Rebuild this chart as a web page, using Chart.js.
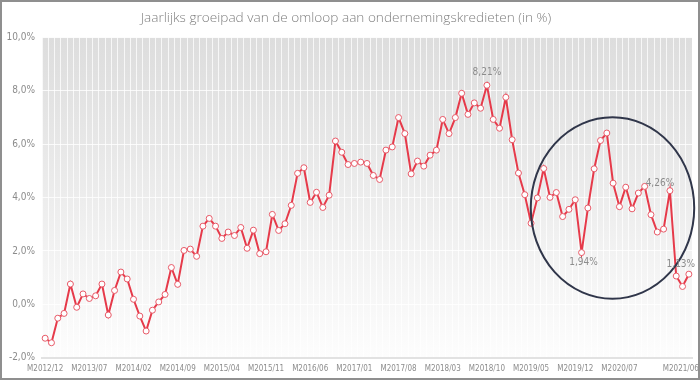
<!DOCTYPE html>
<html><head><meta charset="utf-8">
<script src="https://cdn.jsdelivr.net/npm/chart.js@4"></script>
<style>html,body{margin:0;padding:0;background:#fff}#wrap{width:700px;height:380px}</style>
</head><body><div id="wrap"><canvas id="c" width="700" height="380"></canvas></div>
<script>
const categories = [
 'M2012/12',
 'M2013/01','M2013/02','M2013/03','M2013/04','M2013/05','M2013/06','M2013/07','M2013/08','M2013/09','M2013/10','M2013/11','M2013/12',
 'M2014/01','M2014/02','M2014/03','M2014/04','M2014/05','M2014/06','M2014/07','M2014/08','M2014/09','M2014/10','M2014/11','M2014/12',
 'M2015/01','M2015/02','M2015/03','M2015/04','M2015/05','M2015/06','M2015/07','M2015/08','M2015/09','M2015/10','M2015/11','M2015/12',
 'M2016/01','M2016/02','M2016/03','M2016/04','M2016/05','M2016/06','M2016/07','M2016/08','M2016/09','M2016/10','M2016/11','M2016/12',
 'M2017/01','M2017/02','M2017/03','M2017/04','M2017/05','M2017/06','M2017/07','M2017/08','M2017/09','M2017/10','M2017/11','M2017/12',
 'M2018/01','M2018/02','M2018/03','M2018/04','M2018/05','M2018/06','M2018/07','M2018/08','M2018/09','M2018/10','M2018/11','M2018/12',
 'M2019/01','M2019/02','M2019/03','M2019/04','M2019/05','M2019/06','M2019/07','M2019/08','M2019/09','M2019/10','M2019/11','M2019/12',
 'M2020/01','M2020/02','M2020/03','M2020/04','M2020/05','M2020/06','M2020/07','M2020/08','M2020/09','M2020/10','M2020/11','M2020/12',
 'M2021/01','M2021/02','M2021/03','M2021/04','M2021/05','M2021/06'
];
const growth = [
 -1.27,
 -1.44,-0.52,-0.34,0.76,-0.11,0.39,0.22,0.32,0.76,-0.40,0.52,1.21,
 0.95,0.19,-0.44,-1.00,-0.22,0.09,0.37,1.38,0.75,2.02,2.07,1.80,
 2.93,3.22,2.93,2.47,2.71,2.58,2.88,2.10,2.78,1.90,1.97,3.37,
 2.77,3.02,3.71,4.91,5.12,3.82,4.20,3.63,4.09,6.12,5.70,5.24,
 5.28,5.33,5.28,4.83,4.68,5.78,5.90,7.00,6.40,4.89,5.37,5.18,
 5.59,5.78,6.93,6.40,7.00,7.91,7.12,7.55,7.35,8.21,6.93,6.60,
 7.76,6.17,4.92,4.11,3.04,3.99,5.09,4.01,4.19,3.29,3.56,3.92,
 1.94,3.61,5.08,6.14,6.42,4.54,3.66,4.39,3.58,4.17,4.42,3.36,
 2.71,2.82,4.26,1.06,0.67,1.13
];
const tickLabels = ['M2012/12','M2013/07','M2014/02','M2014/09','M2015/04','M2015/11','M2016/06','M2017/01','M2017/08','M2018/03','M2018/10','M2019/05','M2019/12','M2020/07','M2021/06'];
const labelledPoints = ['M2018/10','M2020/01','M2021/03','M2021/06'];
const highlight = {centerIndex: 89.9, centerValue: 3.61, radiusIndex: 12.95, radiusValue: 3.40};

const fmt = v => v.toFixed(2).replace('.', ',') + '%';
const smallFont = '"DejaVu Sans Condensed", "Liberation Sans Narrow", sans-serif';
const labelStyle = {
 'M2018/10': {dx: 0, dy: -8, base: 'bottom'},
 'M2020/01': {dx: 2, dy: 5, base: 'top'},
 'M2021/03': {dx: -10, dy: -2, base: 'bottom'},
 'M2021/06': {dx: -8, dy: -5, base: 'bottom'}
};

const bgPlugin = {
 id: 'bg',
 beforeDraw(chart) {
  const {ctx, chartArea: a} = chart;
  const g = ctx.createLinearGradient(0, a.top, 0, a.bottom);
  g.addColorStop(0, '#dddddd');
  g.addColorStop(0.55, '#eeeeee');
  g.addColorStop(1, '#fdfdfd');
  ctx.save();
  ctx.fillStyle = g;
  ctx.fillRect(a.left, a.top, a.right - a.left, a.bottom - a.top);
  ctx.restore();
 },
 afterDraw(chart) {
  const ctx = chart.ctx;
  ctx.save();
  ctx.strokeStyle = '#8f8f8f';
  ctx.lineWidth = 2;
  ctx.strokeRect(1, 1, chart.width - 2, chart.height - 2);
  ctx.restore();
 }
};

const annotPlugin = {
 id: 'annot',
 afterDatasetsDraw(chart) {
  const {ctx, scales: {x, y}} = chart;
  const cx = x.getPixelForValue(highlight.centerIndex);
  const cy = y.getPixelForValue(highlight.centerValue);
  const rx = x.getPixelForValue(highlight.centerIndex + highlight.radiusIndex) - cx;
  const ry = cy - y.getPixelForValue(highlight.centerValue + highlight.radiusValue);
  ctx.save();
  ctx.strokeStyle = '#30364a';
  ctx.lineWidth = 2;
  ctx.beginPath();
  ctx.ellipse(cx, cy, rx, ry, 0, 0, Math.PI * 2);
  ctx.stroke();
  const meta = chart.getDatasetMeta(0);
  ctx.font = '10px ' + smallFont;
  ctx.fillStyle = '#8c8c8c';
  ctx.textAlign = 'center';
  labelledPoints.forEach(cat => {
   const i = categories.indexOf(cat);
   const pt = meta.data[i];
   const s = labelStyle[cat];
   ctx.textBaseline = s.base;
   ctx.fillText(fmt(growth[i]), pt.x + s.dx, pt.y + s.dy);
  });
  ctx.restore();
 }
};

new Chart(document.getElementById('c'), {
 type: 'line',
 data: {
  labels: categories,
  datasets: [{
   data: growth,
   borderColor: '#e63a4a',
   borderWidth: 2,
   pointRadius: 3,
   pointBorderWidth: 1,
   pointBackgroundColor: '#ffffff',
   pointBorderColor: '#e85a68',
   tension: 0,
   fill: false
  }]
 },
 options: {
  responsive: false,
  animation: false,
  layout: {padding: {top: 0.5, left: 0, right: 8, bottom: 0}},
  plugins: {
   legend: {display: false},
   tooltip: {enabled: false},
   title: {
    display: true,
    text: 'Jaarlijks groeipad van de omloop aan ondernemingskredieten (in %)',
    color: '#808080',
    font: {family: '"Open Sans", "DejaVu Sans", sans-serif', size: 13.6, weight: '300', lineHeight: 1.2},
    padding: {top: 9.5, bottom: 11.2}
   }
  },
  scales: {
   x: {
    type: 'category',
    offset: true,
    grid: {color: 'rgba(255,255,255,0.75)', lineWidth: 1, drawTicks: false, offset: true},
    border: {display: true, color: '#e2e2e2', width: 2},
    ticks: {
     autoSkip: false, maxRotation: 0, minRotation: 0, padding: 6,
     color: '#8c8c8c',
     font: {family: smallFont, size: 8},
     callback: function(val, idx) {
      const l = this.getLabelForValue(val);
      if (!tickLabels.includes(l)) return '';
      return idx === categories.length - 1 ? l + '       ' : l;
     }
    },
    afterFit(s) { s.height = 22.3; s.paddingLeft = 0; s.paddingRight = 0; }
   },
   y: {
    min: -2, max: 10,
    ticks: {
     stepSize: 2, padding: 7, color: '#8c8c8c',
     font: {family: smallFont, size: 10},
     callback: v => v.toFixed(1).replace('.', ',') + '%'
    },
    grid: {color: 'rgba(255,255,255,0.8)', lineWidth: 1, drawTicks: false},
    border: {display: false},
    afterFit(s) { s.width = 42; s.paddingTop = 0; s.paddingBottom = 0; }
   }
  }
 },
 plugins: [bgPlugin, annotPlugin]
});
</script>
</body></html>
